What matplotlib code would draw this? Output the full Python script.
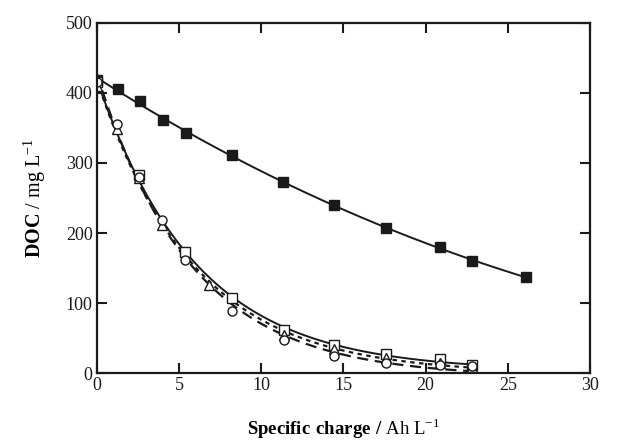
import numpy as np
import matplotlib
matplotlib.use("Agg")
import matplotlib.pyplot as plt

plt.rcParams['font.family'] = ['Liberation Serif', 'DejaVu Serif']
plt.rcParams['mathtext.fontset'] = 'custom'
plt.rcParams['mathtext.rm'] = 'Liberation Serif'
plt.rcParams['mathtext.bf'] = 'Liberation Serif:bold'

# filled squares
x_fill = [0, 1.3, 2.6, 4.0, 5.4, 8.2, 11.3, 14.4, 17.6, 20.9, 22.8, 26.1]
y_fill = [419, 405, 388, 362, 343, 311, 273, 240, 207, 180, 160, 137]

# open squares (solid)
x_sq = [0, 2.55, 5.36, 8.2, 11.4, 14.4, 17.6, 20.9, 22.8]
y_sq = [416, 283, 173, 107, 61, 40, 27, 20, 11]

# open circles (dashed)
x_ci = [0, 1.22, 2.55, 3.96, 5.36, 8.2, 11.4, 14.4, 17.6, 20.9, 22.8]
y_ci = [415, 356, 280, 218, 162, 89, 47, 24, 14, 12, 10]

# open triangles (dotted)
x_tr = [0, 1.22, 2.55, 3.96, 6.8, 11.4, 14.4, 17.6, 20.9, 22.8]
y_tr = [410, 348, 279, 212, 126, 55, 35, 22, 15, 8]


def exp_fit(x, y):
    x = np.asarray(x, float)
    y = np.asarray(y, float)
    best = None
    for b in np.linspace(0.02, 0.5, 500):
        A = np.column_stack([np.exp(-b * x), np.ones_like(x)])
        coef, res, _, _ = np.linalg.lstsq(A, y, rcond=None)
        err = np.sum((A @ coef - y) ** 2)
        if best is None or err < best[0]:
            best = (err, b, coef)
    _, b, (a, c) = best
    xs = np.linspace(0, x.max(), 200)
    return xs, a * np.exp(-b * xs) + c


fig = plt.figure(figsize=(6.21, 4.41), dpi=100)
ax = fig.add_axes([0.156, 0.154, 0.794, 0.794])

p = np.polyfit(x_fill, y_fill, 3)
xs = np.linspace(0, 26.4, 200)
ax.plot(xs, np.polyval(p, xs), color='#1a1a1a', lw=1.4, ls='-')
ax.plot(x_fill, y_fill, 's', ms=7, mfc='#1a1a1a', mec='#1a1a1a')

xs, ys = exp_fit(x_sq, y_sq)
ax.plot(xs, ys, color='#1a1a1a', lw=1.4, ls='-')
xs, ys = exp_fit(x_ci, y_ci)
ax.plot(xs, ys, color='#1a1a1a', lw=1.6, ls=(0, (5, 3)))
xs, ys = exp_fit(x_tr, y_tr)
ax.plot(xs, ys, color='#1a1a1a', lw=1.6, ls=(0, (2, 2)))

ax.plot(x_sq, y_sq, 's', ms=6.5, mfc='white', mec='#1a1a1a', mew=1.0)
ax.plot(x_tr, y_tr, '^', ms=6.5, mfc='white', mec='#1a1a1a', mew=1.0)
ax.plot(x_ci, y_ci, 'o', ms=6.5, mfc='white', mec='#1a1a1a', mew=1.0)

ax.set_xlim(0, 30)
ax.set_ylim(0, 500)
ax.set_xticks([0, 5, 10, 15, 20, 25, 30])
ax.set_yticks([0, 100, 200, 300, 400, 500])
ax.tick_params(direction='in', length=7, width=1.5, top=True, right=True,
               labelsize=13, colors='#1a1a1a', pad=3)
for s in ax.spines.values():
    s.set_linewidth(1.6)
    s.set_color('#1a1a1a')

ax.set_xlabel(r'$\mathbf{Specific\ charge\ /}$ Ah L$^{\mathregular{-1}}$', fontsize=13.5,
              labelpad=16)
ax.set_ylabel(r'$\mathbf{DOC}$ / mg L$^{\mathregular{-1}}$', fontsize=14.5, labelpad=13)

fig.savefig('out.png', dpi=100)
